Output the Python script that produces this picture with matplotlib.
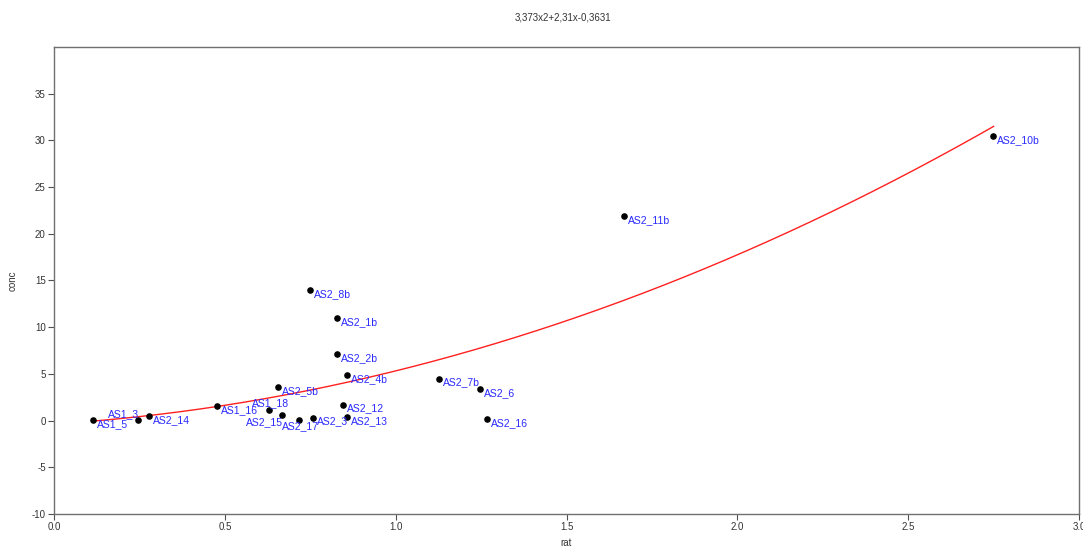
import matplotlib
matplotlib.use("Agg")
import matplotlib.pyplot as plt
import numpy as np

plt.rcParams["axes.unicode_minus"] = False
plt.rcParams["font.family"] = ["Liberation Sans", "DejaVu Sans"]

# Sample ratios and concentrations
names = ["AS1_5", "AS1_3", "AS2_14", "AS1_16", "AS1_18", "AS2_15", "AS2_17",
         "AS2_3", "AS2_12", "AS2_13", "AS2_5b", "AS2_4b", "AS2_7b", "AS2_6",
         "AS2_16", "AS2_8b", "AS2_1b", "AS2_2b", "AS2_11b", "AS2_10b"]
rat = [0.115, 0.247, 0.277, 0.477, 0.628, 0.668, 0.717,
       0.757, 0.847, 0.857, 0.656, 0.858, 1.128, 1.247,
       1.268, 0.748, 0.827, 0.827, 1.669, 2.749]
conc = [0.05, 0.03, 0.46, 1.54, 1.11, 0.61, 0.11,
        0.32, 1.72, 0.35, 3.6, 4.84, 4.5, 3.37,
        0.14, 13.98, 10.93, 7.13, 21.9, 30.5]

# Quadratic calibration fit: 3.373x^2 + 2.31x - 0.3631
coef = [3.373, 2.31, -0.3631]
fit_range = [0.12, 2.75]

# Label placement (offset in pixels, horizontal alignment)
label_pos = {
    "AS1_3": ((1, 6), "right"),
    "AS1_18": ((2, 7), "center"),
    "AS2_15": ((1, -7), "right"),
    "AS2_17": ((1, -7), "center"),
}

fig = plt.figure(figsize=(10.83, 5.49), dpi=100)
ax = fig.add_axes([0.0499, 0.0638, 0.9464, 0.8506])

xs = np.linspace(fit_range[0], fit_range[1], 300)
ax.plot(xs, np.polyval(coef, xs), color="#ff2020", lw=1.0, zorder=2)
ax.scatter(rat, conc, s=14, color="black", zorder=3)

for n, x, y in zip(names, rat, conc):
    off, ha = label_pos.get(n, ((4, -4), "left"))
    ax.annotate(n, (x, y), xytext=off, textcoords="offset pixels",
                ha=ha, va="center", fontsize=7.5, color="#2a2aff", zorder=4)

ax.set_xlim(0, 3.0)
ax.set_ylim(-10, 40)
ax.set_xticks(np.arange(0, 3.01, 0.5))
ax.set_xticklabels([f"{v:.1f}" for v in np.arange(0, 3.01, 0.5)])
ax.set_yticks(np.arange(-10, 36, 5))
for s in ax.spines.values():
    s.set_color("#707070")
    s.set_linewidth(1.0)
ax.tick_params(direction="out", length=4, width=0.8, color="#505050",
               labelsize=7, labelcolor="#333333", pad=2)

ax.set_xlabel("rat", fontsize=7, color="#333333", labelpad=4)
ax.set_ylabel("conc", fontsize=7, color="#333333", labelpad=10)
fig.text(0.52, 0.968, "3,373x2+2,31x-0,3631", ha="center", va="center",
         fontsize=7, color="#333333")

fig.savefig("out.png", dpi=100)
